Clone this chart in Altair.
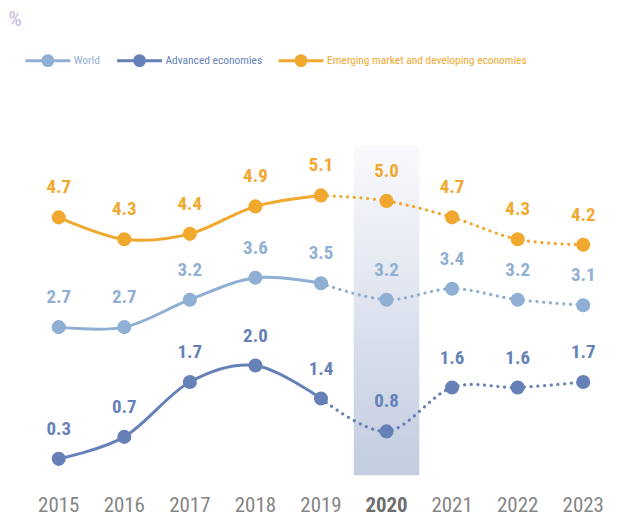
import altair as alt
import pandas as pd

years = ["2015", "2016", "2017", "2018", "2019", "2020", "2021", "2022", "2023"]
series_names = ["World", "Advanced economies", "Emerging market and developing economies"]
world = [2.7, 2.7, 3.2, 3.6, 3.5, 3.2, 3.4, 3.2, 3.1]
advanced = [0.3, 0.7, 1.7, 2.0, 1.4, 0.8, 1.6, 1.6, 1.7]
emde = [4.7, 4.3, 4.4, 4.9, 5.1, 5.0, 4.7, 4.3, 4.2]
colors = ["#8fafd4", "#6681b8", "#f0a82f"]
highlight_year = ["2020"]
band_top = [6]

FONT = "Liberation Sans Narrow, Roboto Condensed, Roboto"

rows = []
for s, vals in zip(series_names, [world, advanced, emde]):
    for i, (y, v) in enumerate(zip(years, vals)):
        rows.append({"year": y, "value": v, "series": s, "idx": i})
df = pd.DataFrame(rows)

band_df = pd.DataFrame({"year": highlight_year, "lo": [0], "hi": band_top})

x_enc = alt.X(
    "year:O",
    sort=years,
    scale=alt.Scale(domain=years, paddingInner=0, paddingOuter=0),
    axis=alt.Axis(
        title=None, domain=False, ticks=False, grid=False,
        labelAngle=0, labelFont=FONT, labelFontSize=21, labelPadding=19,
        labelColor=alt.condition("datum.value == '2020'", alt.value("#6f6f6f"), alt.value("#858585")),
        labelFontWeight=alt.condition("datum.value == '2020'", alt.value("bold"), alt.value("normal")),
    ),
)
y_scale = alt.Scale(domain=[0, 8.5], nice=False, zero=False)
y_enc = alt.Y(
    "value:Q", scale=y_scale,
    axis=alt.Axis(
        title="%", labels=False, ticks=False, domain=False, grid=False,
        titleAngle=0, titleX=-18, titleY=0, titleAlign="left", titleBaseline="top",
        titleFont=FONT, titleFontSize=21, titleFontWeight="normal", titleColor="#c9b4dc",
    ),
)

band = alt.Chart(band_df).mark_bar(
    color=alt.Gradient(
        gradient="linear", x1=0, y1=0, x2=0, y2=1,
        stops=[alt.GradientStop(color="#f9fafd", offset=0), alt.GradientStop(color="#c2cce0", offset=1)],
    )
).encode(x=x_enc, y=alt.Y("lo:Q", scale=y_scale), y2="hi:Q")

path = "M-1,0L1,0M0.22,0A0.22,0.22,0,1,1,-0.22,0A0.22,0.22,0,1,1,0.22,0"
legend_x = [-2, 90, 252]

layers = [band]
for s, c, lx in zip(series_names, colors, legend_x):
    sdf = df[df.series == s]
    base = alt.Chart(sdf).encode(x=x_enc, y=y_enc)
    solid = base.transform_filter("datum.idx <= 4").mark_line(
        color=c, strokeWidth=3, interpolate="cardinal"
    )
    dotted = base.transform_filter("datum.idx >= 4").mark_line(
        color=c, strokeWidth=3.2, interpolate="cardinal", strokeDash=[0.1, 6.6], strokeCap="round"
    )
    pts = base.mark_circle(size=200, opacity=1).encode(
        color=alt.Color(
            "series:N",
            scale=alt.Scale(domain=[s], range=[c]),
            legend=alt.Legend(
                orient="none", legendX=lx, legendY=28, title=None,
                symbolType=path, symbolSize=2025, symbolStrokeWidth=3,
                symbolStrokeColor=c, symbolFillColor=c, symbolOpacity=1,
                labelColor=c, labelFont=FONT, labelFontSize=11.5, labelOffset=2,
                labelLimit=400, padding=0,
            ),
        )
    )
    labels = base.mark_text(
        dy=-30, font=FONT, fontSize=19, fontWeight="bold", color=c
    ).encode(text=alt.Text("value:Q", format=".1f"))
    layers.extend([solid, dotted, pts, labels])

chart = alt.layer(*layers).resolve_scale(color="independent").properties(
    width=592, height=468,
    padding={"left": 0, "top": 0, "right": 0, "bottom": 0},
).configure_view(stroke=None)

chart.save("out.html", embed_options={"renderer": "svg", "actions": False})
